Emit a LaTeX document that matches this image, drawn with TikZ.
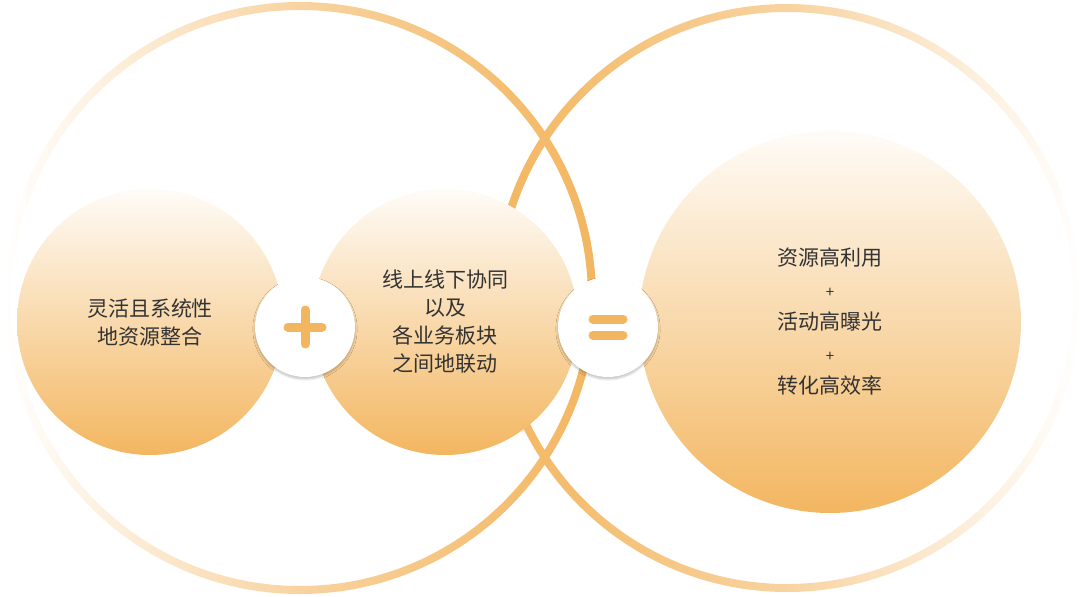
\documentclass[tikz,border=0pt]{standalone}
\usepackage{fontspec}
\setmainfont{Noto Sans CJK SC}
\usetikzlibrary{shadows.blur}
\definecolor{org}{HTML}{F3B660}
\definecolor{pale}{HTML}{FDF4E6}
\definecolor{txt}{HTML}{333333}
\tikzset{
  ball/.style={circle, top color=white!70!pale, bottom color=org, draw=none},
  opbox/.style={circle, fill=white, minimum size=100pt, blur shadow={shadow blur steps=6, shadow xshift=0pt, shadow yshift=-2pt, shadow opacity=25}},
  lbl/.style={font=\fontsize{21}{28}\selectfont, text=txt, align=center},
  sym/.style={line width=9pt, org, line cap=round}
}
\begin{document}
\begin{tikzpicture}[x=1pt,y=-1pt]
\useasboundingbox (0,0) rectangle (1080,597);
% rings
\shade[even odd rule, left color=white, right color=org, middle color=org!60!white]
  (300,298) circle (296) (300,298) circle (288);
\shade[even odd rule, left color=org, right color=white, middle color=org!60!white]
  (787,298) circle (294) (787,298) circle (286);
% balls
\node[ball, minimum size=266pt] (a) at (150,322) {};
\node[ball, minimum size=266pt] (b) at (445,322) {};
\node[ball, minimum size=382pt] (c) at (830,322) {};
\node[lbl] (ta) at (a) {灵活且系统性\\地资源整合};
\node[lbl] (tb) at (b) {线上线下协同\\以及\\各业务板块\\之间地联动};
\node[lbl, font=\fontsize{21}{32}\selectfont] (tc) at (c) {资源高利用\\{\fontsize{15}{20}\selectfont +}\\活动高曝光\\{\fontsize{15}{20}\selectfont +}\\转化高效率};
% operators
\node[opbox] (p) at (305,327) {};
\node[opbox] (e) at (608,327) {};
\draw[sym] ([xshift=-17pt]p.center) -- ([xshift=17pt]p.center);
\draw[sym] ([yshift=-17pt]p.center) -- ([yshift=17pt]p.center);
\draw[sym] ([xshift=-15pt,yshift=-8pt]e.center) -- ([xshift=15pt,yshift=-8pt]e.center);
\draw[sym] ([xshift=-15pt,yshift=8pt]e.center) -- ([xshift=15pt,yshift=8pt]e.center);
\end{tikzpicture}
\end{document}
